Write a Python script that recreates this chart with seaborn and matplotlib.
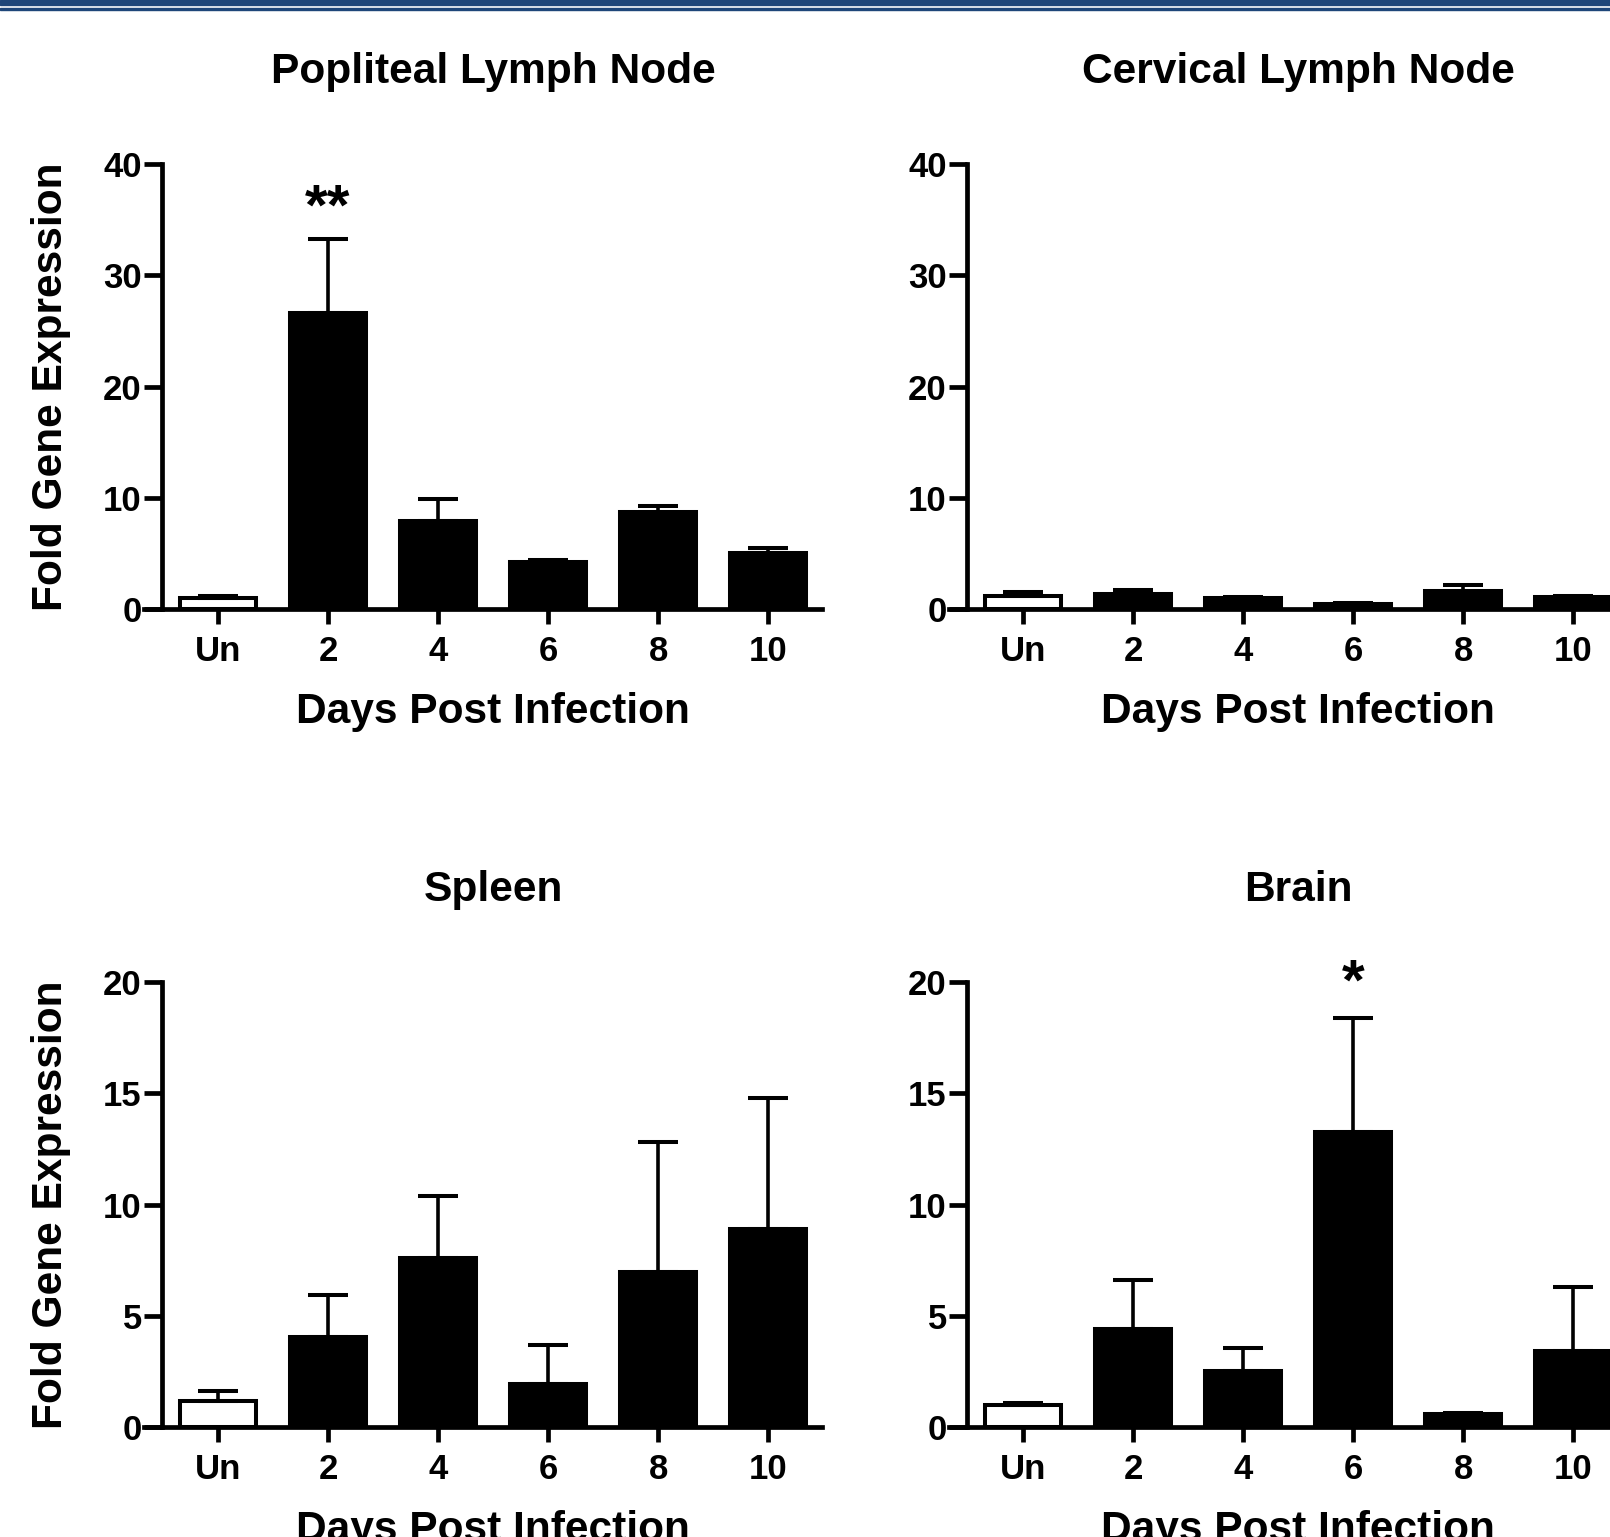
import numpy as np
import pandas as pd

import matplotlib
matplotlib.use("Agg")
import matplotlib.pyplot as plt
from matplotlib.patches import Rectangle
import seaborn as sns


# ============================================================
# DATA
# ============================================================

DAYS = ["Un", "2", "4", "6", "8", "10"]

popliteal_mean = [1.0, 26.6, 7.9, 4.25, 8.7, 5.0]
popliteal_sem = [0.2, 6.7, 2.0, 0.15, 0.6, 0.45]

cervical_mean = [1.2, 1.35, 0.95, 0.45, 1.6, 1.05]
cervical_sem = [0.35, 0.35, 0.15, 0.05, 0.6, 0.15]

spleen_mean = [1.15, 4.05, 7.6, 1.95, 6.95, 8.9]
spleen_sem = [0.45, 1.9, 2.8, 1.75, 5.85, 5.9]

brain_mean = [1.0, 4.4, 2.5, 13.25, 0.6, 3.4]
brain_sem = [0.1, 2.2, 1.05, 5.15, 0.05, 2.9]

BAR_COLORS = ["white", "black", "black", "black", "black", "black"]

PANELS = [
    # title, means, sems, ymax, ystep, stars (index, baseline y, text)
    ("Popliteal Lymph Node", popliteal_mean, popliteal_sem, 40, 10, (1, 34.6, "**")),
    ("Cervical Lymph Node", cervical_mean, cervical_sem, 40, 10, None),
    ("Spleen", spleen_mean, spleen_sem, 20, 5, None),
    ("Brain", brain_mean, brain_sem, 20, 5, (3, 19.23, "*")),
]


# ============================================================
# STYLE
# ============================================================

sns.set_style("ticks")
plt.rcParams["font.family"] = ["Liberation Sans", "DejaVu Sans"]
plt.rcParams["font.weight"] = "bold"
plt.rcParams["axes.labelweight"] = "bold"
plt.rcParams["axes.titleweight"] = "bold"
for key in ["text.color", "axes.labelcolor", "axes.edgecolor",
            "xtick.color", "ytick.color"]:
    plt.rcParams[key] = "black"

W, H = 1610, 1537
fig = plt.figure(figsize=(W / 100, H / 100), dpi=100)

# header band
BLUE = "#1e4679"
fig.patches.append(Rectangle((0, 1 - 5 / H), 1, 5 / H, transform=fig.transFigure,
                             color=BLUE, zorder=10))
fig.patches.append(Rectangle((0, 1 - 10 / H), 1, 2.5 / H, transform=fig.transFigure,
                             color=BLUE, zorder=10))

# axes boxes in pixels: left, y of zero line, height
LEFTS = [144, 949]
ZEROS = [609, 1427]
AX_W = 678
AX_H = 445

XLIM = (-0.673, 5.49)
SPINE_X = -0.51
TX = (2.5 - XLIM[0]) / (XLIM[1] - XLIM[0])

LW = 3.4

for i, (title, means, sems, ymax, ystep, stars) in enumerate(PANELS):
    row, col = divmod(i, 2)
    ax = fig.add_axes([
        LEFTS[col] / W,
        (H - ZEROS[row]) / H,
        AX_W / W,
        AX_H / H,
    ])

    df = pd.DataFrame({"day": DAYS, "fold": means})

    sns.barplot(
        data=df,
        x="day",
        y="fold",
        hue="day",
        order=DAYS,
        palette=BAR_COLORS,
        width=0.69,
        edgecolor="black",
        linewidth=2.9,
        legend=False,
        errorbar=None,
        ax=ax,
    )

    ax.errorbar(
        np.arange(len(DAYS)),
        means,
        yerr=[np.zeros(len(DAYS)), sems],
        fmt="none",
        ecolor="black",
        elinewidth=2.6,
        capsize=14.4,
        capthick=2.9,
        zorder=3,
    )

    if stars is not None:
        idx, ys, txt = stars
        ax.text(idx, ys, txt, ha="center", va="baseline",
                fontsize=42, fontweight="bold", clip_on=False)

    ax.set_xlim(*XLIM)
    ax.set_ylim(0, ymax)
    ax.set_yticks(np.arange(0, ymax + 1, ystep))

    sns.despine(ax=ax)
    ax.spines["left"].set_position(("data", SPINE_X))
    for s in ["left", "bottom"]:
        ax.spines[s].set_linewidth(LW)
        ax.spines[s].set_color("black")
        ax.spines[s].set_zorder(4)

    ax.tick_params(axis="y", length=13, width=LW, pad=1.5, labelsize=25, colors="black")
    ax.tick_params(axis="x", length=11, width=LW, pad=8, labelsize=25, colors="black")

    ax.set_title(title, x=TX, y=1.206, va="center", pad=0, fontsize=30.6)

    ax.set_xlabel("Days Post Infection", fontsize=30.6)
    ax.xaxis.label.set_va("center")
    ax.xaxis.set_label_coords(TX, -103 / AX_H)

    if col == 0:
        ax.set_ylabel("Fold Gene Expression", fontsize=30.6)
        ax.yaxis.label.set_va("center")
        ax.yaxis.set_label_coords((51 - LEFTS[0]) / AX_W, 0.5)
    else:
        ax.set_ylabel("")

plt.savefig("out.png", dpi=100)
